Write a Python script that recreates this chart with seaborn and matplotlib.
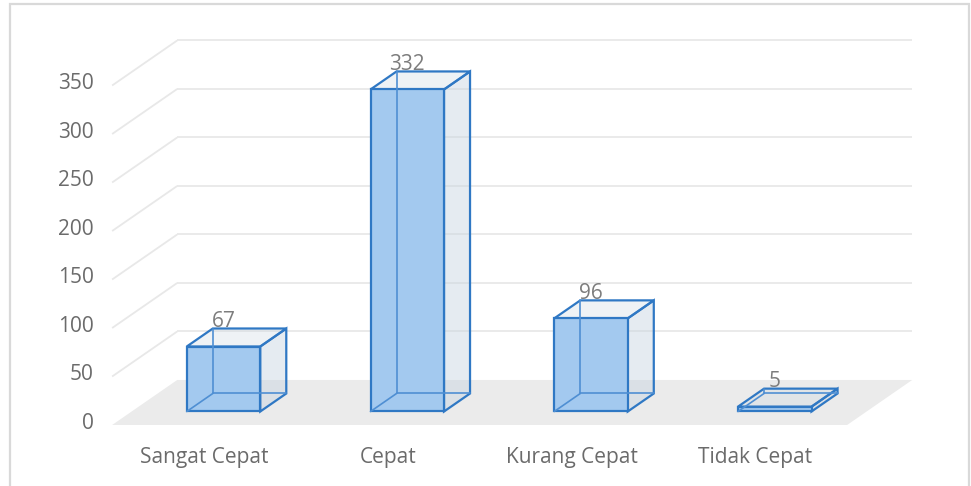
import numpy as np
import pandas as pd
import matplotlib
matplotlib.use("Agg")
import matplotlib.pyplot as plt
from matplotlib.patches import Polygon, Rectangle
import seaborn as sns

categories = ["Sangat Cepat", "Cepat", "Kurang Cepat", "Tidak Cepat"]
counts = [67, 332, 96, 5]
y_ticks = [0, 50, 100, 150, 200, 250, 300, 350]

# Oblique projection of the 3-D chart box: depth d in [0, 1] shifts a point
# right (in category units) and up (in value units).
DEPTH_X = 0.354
DEPTH_Y = 46.4
BAR_W = 0.4
BAR_D0, BAR_D1 = 0.3, 0.7
X_LO, X_HI = -0.5, len(categories) - 0.5

EDGE = "#2f78c4"
HIDDEN = "#4f8fd3"
FRONT = "#a3c9ef"
GLASS = (0.78, 0.83, 0.88)
GRID = "#e8e8e8"
FLOOR = "#ebebeb"
TEXT = "#6b6b6b"
LABEL = "#7d7d7d"
FS = 15


def proj(c, d, v):
    return (c + d * DEPTH_X, v + d * DEPTH_Y)


sns.set_theme(style="white")
plt.rcParams["font.family"] = ["Open Sans", "DejaVu Sans"]

fig = plt.figure(figsize=(9.71, 4.86), dpi=100)
fig.patch.set_facecolor("white")
ax = fig.add_axes([0, 0, 1, 1])
ax.set_facecolor("white")

# floor of the chart box
floor = Polygon([proj(X_LO, 0, 0), proj(X_HI, 0, 0), proj(X_HI, 1, 0), proj(X_LO, 1, 0)],
                closed=True, facecolor=FLOOR, edgecolor="none", zorder=0.5)
ax.add_patch(floor)

# gridlines on the back wall and the left side wall
for v in y_ticks[1:]:
    (x0, y0), (x1, y1) = proj(X_LO, 1, v), proj(X_HI, 1, v)
    ax.plot([x0, x1], [y0, y1], color=GRID, lw=1.3, zorder=1, solid_capstyle="butt")
    (x0, y0), (x1, y1) = proj(X_LO, 0, v), proj(X_LO, 1, v)
    ax.plot([x0, x1], [y0, y1], color=GRID, lw=1.3, zorder=1, solid_capstyle="butt")

# translucent side and top faces of each column
for i, v in enumerate(counts):
    l, r = i - BAR_W / 2, i + BAR_W / 2
    side = [proj(r, BAR_D0, 0), proj(r, BAR_D1, 0), proj(r, BAR_D1, v), proj(r, BAR_D0, v)]
    top = [proj(l, BAR_D0, v), proj(r, BAR_D0, v), proj(r, BAR_D1, v), proj(l, BAR_D1, v)]
    ax.add_patch(Polygon(side, closed=True, facecolor=(*GLASS, 0.45), edgecolor=EDGE,
                         lw=1.6, joinstyle="miter", zorder=2))
    ax.add_patch(Polygon(top, closed=True, facecolor=(*GLASS, 0.3), edgecolor=EDGE,
                         lw=1.6, joinstyle="miter", zorder=2))

# front faces of the columns
front = pd.DataFrame({"pos": np.arange(len(categories)) + BAR_D0 * DEPTH_X,
                      "count": counts})
sns.barplot(data=front, x="pos", y="count", native_scale=True, width=BAR_W,
            bottom=BAR_D0 * DEPTH_Y, color=FRONT, saturation=1, edgecolor=EDGE,
            linewidth=1.6, errorbar=None, ax=ax, zorder=3)

# hidden back edges, seen through the glassy faces
for i, v in enumerate(counts):
    l, r = i - BAR_W / 2, i + BAR_W / 2
    for a, b in [(proj(l, BAR_D1, 0), proj(l, BAR_D1, v)),
                 (proj(l, BAR_D1, 0), proj(r, BAR_D1, 0)),
                 (proj(l, BAR_D0, 0), proj(l, BAR_D1, 0))]:
        ax.plot([a[0], b[0]], [a[1], b[1]], color=HIDDEN, lw=1.2, zorder=4)

# value labels above the columns
for i, v in enumerate(counts):
    ax.text(i + BAR_D0 * DEPTH_X, v + BAR_D1 * DEPTH_Y + 7.5, f"{v}",
            ha="center", va="center", color=LABEL, fontsize=FS, zorder=6)

# category labels
for i, name in enumerate(categories):
    ax.text(i, -33, name, ha="center", va="center", color=TEXT, fontsize=FS)

# value axis labels on the front-left edge
for v in y_ticks:
    ax.text(X_LO - 0.1, v + 2, f"{v}", ha="right", va="center", color=TEXT, fontsize=FS)

ax.set_xlim(-204 / 183.75, (971 - 204) / 183.75)
ax.set_ylim((425 - 486) / 0.97, 425 / 0.97)
ax.axis("off")

# chart border
fig.patches.append(Rectangle((10 / 971, -0.05), 959 / 971, 1.05 - 4 / 486,
                             transform=fig.transFigure, fill=False,
                             edgecolor="#d9d9d9", lw=1.6))

fig.savefig("out.png", dpi=100)
